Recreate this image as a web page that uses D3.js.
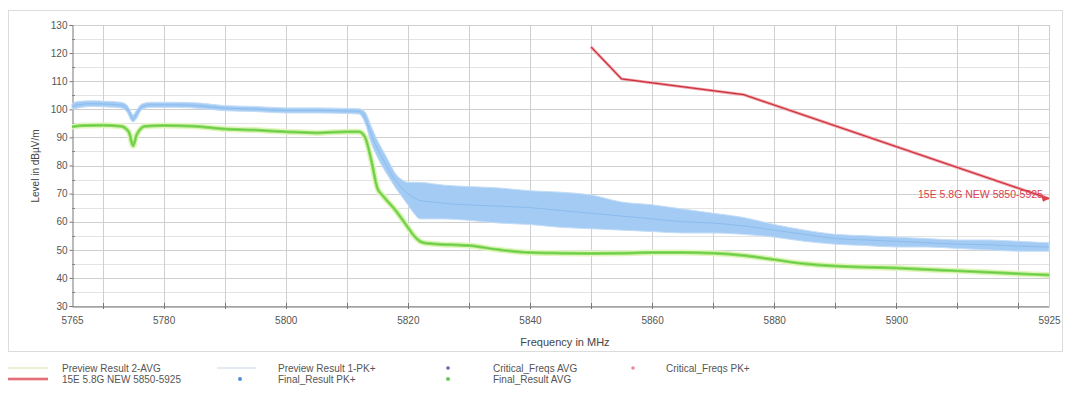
<!DOCTYPE html>
<html>
<head>
<meta charset="utf-8">
<script src="https://cdn.jsdelivr.net/npm/d3@7"></script>
<style>
  body { margin: 0; background: #fff; }
  text { font-family: "Liberation Sans", Arial, sans-serif; }
</style>
</head>
<body>
<script>
'use strict';

// tick labels and grid positions
const xTickLabels = [5765, 5780, 5800, 5820, 5840, 5860, 5880, 5900, 5925];
const xGrid = [5770, 5780, 5790, 5800, 5810, 5820, 5830, 5840, 5850, 5860, 5870, 5880, 5890, 5900, 5910, 5920];
const yTickLabels = [30, 40, 50, 60, 70, 80, 90, 100, 110, 120, 130];
const yMinor = [35, 45, 55, 65, 75, 85, 95, 105, 115, 125];

// Preview Result 1-PK+ (read as envelope of the noisy trace)
const pkFreq = [5765, 5766, 5768, 5771, 5773, 5774, 5774.7, 5775, 5775.5, 5776.5, 5778, 5782, 5786, 5790, 5795, 5800, 5805, 5810, 5812, 5813, 5814, 5815, 5816, 5817, 5818, 5819, 5820, 5821, 5822, 5824, 5826, 5830, 5835, 5840, 5845, 5850, 5855, 5860, 5865, 5870, 5875, 5880, 5885, 5890, 5895, 5900, 5905, 5910, 5915, 5920, 5925];
const pkHigh = [102, 102.8, 103, 102.8, 102.5, 101.5, 99, 98, 99.5, 102, 102.5, 102.5, 102.2, 101.3, 101, 100.5, 100.5, 100.3, 100.2, 99, 94, 89, 85, 81, 77, 75, 74, 74, 74, 73.5, 73, 72.5, 72, 71, 70.5, 69.5, 67, 66, 64.5, 63, 61.5, 59, 57, 55.5, 55, 54.5, 54, 53.5, 53.5, 53, 52.5];
const pkLow = [100, 100.5, 101, 100.8, 100.5, 99, 96, 95.5, 96.5, 100, 100.7, 100.7, 100.3, 99.5, 99.2, 98.7, 98.7, 98.5, 98.3, 95, 88, 83, 79, 75.5, 72, 69, 66, 63, 61, 61, 61, 60.5, 59.5, 59, 58, 57.5, 57, 56.5, 56, 56, 55.5, 54.5, 53, 52, 51.5, 51, 51, 50.5, 50, 49.5, 49.5];
const pkMid = [101, 101.6, 102, 101.8, 101.5, 100.3, 97.5, 96.5, 98, 101, 101.6, 101.6, 101.2, 100.4, 100.1, 99.6, 99.6, 99.4, 99.3, 97, 91, 86, 82, 78, 74.5, 72, 70, 68.5, 67.5, 67, 66.5, 66, 65.5, 65, 64, 63, 62, 61, 60, 59.5, 58.5, 57, 55.5, 54, 53.5, 53, 52.5, 52, 51.8, 51.3, 51];

// Preview Result 2-AVG
const avgFreq = [5765, 5767, 5770, 5773, 5774.3, 5775, 5775.6, 5777, 5780, 5785, 5790, 5795, 5800, 5805, 5810, 5812, 5813, 5814, 5815, 5816, 5818, 5820, 5821, 5822, 5823, 5825, 5830, 5835, 5840, 5845, 5850, 5855, 5860, 5865, 5870, 5875, 5880, 5885, 5890, 5895, 5900, 5905, 5910, 5915, 5920, 5925];
const avgVal = [93.8, 94.2, 94.3, 94, 92, 87, 91, 94, 94.2, 94, 93, 92.6, 92, 91.6, 92, 92, 90, 82, 72, 69, 64, 58, 55, 53, 52.3, 52, 51.5, 50, 49, 48.8, 48.7, 48.8, 49, 49, 48.8, 48, 46.5, 45, 44.2, 43.8, 43.5, 43, 42.5, 42, 41.5, 41];

// limit line 15E 5.8G NEW 5850-5925
const limitFreq = [5850, 5855, 5875, 5925];
const limitVal = [122.2, 110.8, 105.2, 68.2];
const limitName = "15E 5.8G NEW 5850-5925";

// legend
const legendNames = ["Preview Result 2-AVG", "Preview Result 1-PK+", "Critical_Freqs AVG", "Critical_Freqs PK+",
                     "15E 5.8G NEW 5850-5925", "Final_Result PK+", "Final_Result AVG"];

(function () {

  let svg = d3.select('body')
    .append('svg')
    .attr('width', 1067)
    .attr('height', 394);

  let xScale = d3.scaleLinear().domain([5765, 5925]).range([72, 1049]);
  let yScale = d3.scaleLinear().domain([30, 130]).range([306, 25]);

  // outer frame
  svg.append('rect')
    .attr('x', 8.5).attr('y', 10.5)
    .attr('width', 1054).attr('height', 341)
    .attr('fill', 'none')
    .attr('stroke', '#dcdcdc');

  drawGrid();
  drawAxes();
  plotData();
  makeLabels();
  makeLegend();

  function drawGrid() {
    let g = svg.append('g');
    g.selectAll('.ymin').data(yMinor).enter().append('line')
      .attr('x1', xScale(5765)).attr('x2', xScale(5925))
      .attr('y1', d => Math.round(yScale(d)) + 0.5).attr('y2', d => Math.round(yScale(d)) + 0.5)
      .attr('stroke', '#e3e3e3');
    g.selectAll('.ymaj').data(yTickLabels).enter().append('line')
      .attr('x1', xScale(5765)).attr('x2', xScale(5925))
      .attr('y1', d => Math.round(yScale(d)) + 0.5).attr('y2', d => Math.round(yScale(d)) + 0.5)
      .attr('stroke', '#cfcfcf');
    g.selectAll('.xg').data(xGrid.concat([5925])).enter().append('line')
      .attr('x1', d => Math.round(xScale(d)) + 0.5).attr('x2', d => Math.round(xScale(d)) + 0.5)
      .attr('y1', yScale(130)).attr('y2', yScale(30))
      .attr('stroke', '#cfcfcf');
  }

  function drawAxes() {
    let xAxis = d3.axisBottom(xScale)
      .tickValues(xTickLabels)
      .tickSize(0)
      .tickPadding(10)
      .tickFormat(d3.format('d'));
    let gx = svg.append('g')
      .attr('transform', 'translate(0,' + (Math.round(yScale(30)) + 0.5) + ')')
      .call(xAxis);
    gx.select('.domain').attr('stroke', '#777');
    gx.selectAll('text').attr('fill', '#555').style('font-size', '10px');

    // small crosses on the x axis
    svg.selectAll('.xt').data(xGrid).enter().append('line')
      .attr('x1', d => Math.round(xScale(d)) + 0.5).attr('x2', d => Math.round(xScale(d)) + 0.5)
      .attr('y1', yScale(30) - 3).attr('y2', yScale(30) + 3)
      .attr('stroke', '#777');

    let yAxis = d3.axisLeft(yScale)
      .tickValues(yTickLabels)
      .tickSize(3)
      .tickPadding(2);
    let gy = svg.append('g')
      .attr('transform', 'translate(' + (Math.round(xScale(5765)) + 0.5) + ',0)')
      .call(yAxis);
    gy.select('.domain').attr('stroke', '#777');
    gy.selectAll('line').attr('stroke', '#777');
    gy.selectAll('text').attr('fill', '#555').style('font-size', '10px');

    svg.selectAll('.ym').data(yMinor).enter().append('line')
      .attr('x1', xScale(5765)).attr('x2', xScale(5765) + 3)
      .attr('y1', d => Math.round(yScale(d)) + 0.5).attr('y2', d => Math.round(yScale(d)) + 0.5)
      .attr('stroke', '#888');
  }

  function plotData() {
    let pkRows = pkFreq.map((f, i) => ({ f: f, hi: pkHigh[i], lo: pkLow[i], mid: pkMid[i] }));
    let avgRows = avgFreq.map((f, i) => ({ f: f, v: avgVal[i] }));
    let limRows = limitFreq.map((f, i) => ({ f: f, v: limitVal[i] }));

    let band = d3.area()
      .x(d => xScale(d.f))
      .y0(d => yScale(d.lo))
      .y1(d => yScale(d.hi))
      .curve(d3.curveMonotoneX);

    svg.append('path')
      .datum(pkRows)
      .attr('d', band)
      .attr('fill', '#a3cbf4')
      .attr('stroke', '#c4ddf7')
      .attr('stroke-width', 1);

    svg.append('path')
      .datum(pkRows)
      .attr('d', d3.line().x(d => xScale(d.f)).y(d => yScale(d.mid)).curve(d3.curveMonotoneX))
      .attr('fill', 'none')
      .attr('stroke', '#8cbcee')
      .attr('stroke-width', 1);

    let avgLine = d3.line()
      .x(d => xScale(d.f))
      .y(d => yScale(d.v))
      .curve(d3.curveMonotoneX);

    svg.append('path')
      .datum(avgRows)
      .attr('d', avgLine)
      .attr('fill', 'none')
      .attr('stroke', '#e2f5bf')
      .attr('stroke-width', 6);
    svg.append('path')
      .datum(avgRows)
      .attr('d', avgLine)
      .attr('fill', 'none')
      .attr('stroke', '#86dc5e')
      .attr('stroke-width', 3);
    svg.append('path')
      .datum(avgRows)
      .attr('d', avgLine)
      .attr('fill', 'none')
      .attr('stroke', '#62c23e')
      .attr('stroke-width', 0.8);

    let limLine = d3.line()
      .x(d => xScale(d.f))
      .y(d => yScale(d.v));
    svg.append('path')
      .datum(limRows)
      .attr('d', limLine)
      .attr('fill', 'none')
      .attr('stroke', '#f3a0a6')
      .attr('stroke-width', 3);
    svg.append('path')
      .datum(limRows)
      .attr('d', limLine)
      .attr('fill', 'none')
      .attr('stroke', '#c8323e')
      .attr('stroke-width', 1.2);

    // limit name near the end of the line
    let last = limRows[limRows.length - 1];
    svg.append('text')
      .attr('x', xScale(last.f) - 131)
      .attr('y', yScale(last.v) - 1)
      .attr('fill', '#e0404c')
      .style('font-size', '10.5px')
      .text(limitName);
    svg.append('path')
      .attr('d', 'M' + (xScale(last.f) - 8) + ',' + (yScale(last.v) - 4) +
                 'L' + xScale(last.f) + ',' + yScale(last.v) +
                 'L' + (xScale(last.f) - 6) + ',' + (yScale(last.v) + 3) + 'Z')
      .attr('fill', '#e0404c');
  }

  function makeLabels() {
    svg.append('text')
      .attr('x', 565)
      .attr('y', 346)
      .attr('text-anchor', 'middle')
      .attr('fill', '#444')
      .style('font-size', '11px')
      .text('Frequency in MHz');

    svg.append('text')
      .attr('transform', 'translate(39, 166)rotate(-90)')
      .attr('text-anchor', 'middle')
      .attr('fill', '#444')
      .style('font-size', '10px')
      .text('Level in dBµV/m');
  }

  function makeLegend() {
    let g = svg.append('g').style('font-size', '10px');
    let textX = [62, 278, 493, 666];
    let rowY = [368, 379];
    let pos = [[0, 0], [1, 0], [2, 0], [3, 0], [0, 1], [1, 1], [2, 1]];

    g.selectAll('text').data(legendNames).enter().append('text')
      .attr('x', (d, i) => textX[pos[i][0]])
      .attr('y', (d, i) => rowY[pos[i][1]] + 3.5)
      .attr('fill', '#555')
      .text(d => d);

    // line swatches
    g.append('line').attr('x1', 8).attr('x2', 48).attr('y1', rowY[0]).attr('y2', rowY[0])
      .attr('stroke', '#e4ebc6').attr('stroke-width', 1.5);
    g.append('line').attr('x1', 217).attr('x2', 256).attr('y1', rowY[0]).attr('y2', rowY[0])
      .attr('stroke', '#dbe3ec').attr('stroke-width', 1.5);
    g.append('line').attr('x1', 8).attr('x2', 48).attr('y1', rowY[1]).attr('y2', rowY[1])
      .attr('stroke', '#f3a0a6').attr('stroke-width', 3);
    g.append('line').attr('x1', 8).attr('x2', 48).attr('y1', rowY[1]).attr('y2', rowY[1])
      .attr('stroke', '#d0404c').attr('stroke-width', 1.2);

    // point markers
    g.append('circle').attr('cx', 448).attr('cy', rowY[0]).attr('r', 1.8).attr('fill', '#6a62b8');
    g.append('circle').attr('cx', 633).attr('cy', rowY[0]).attr('r', 1.8).attr('fill', '#f08a96');
    g.append('circle').attr('cx', 240).attr('cy', rowY[1]).attr('r', 2).attr('fill', '#4a90dc');
    g.append('circle').attr('cx', 448).attr('cy', rowY[1]).attr('r', 2).attr('fill', '#66c85a');
  }

})();
</script>
</body>
</html>
